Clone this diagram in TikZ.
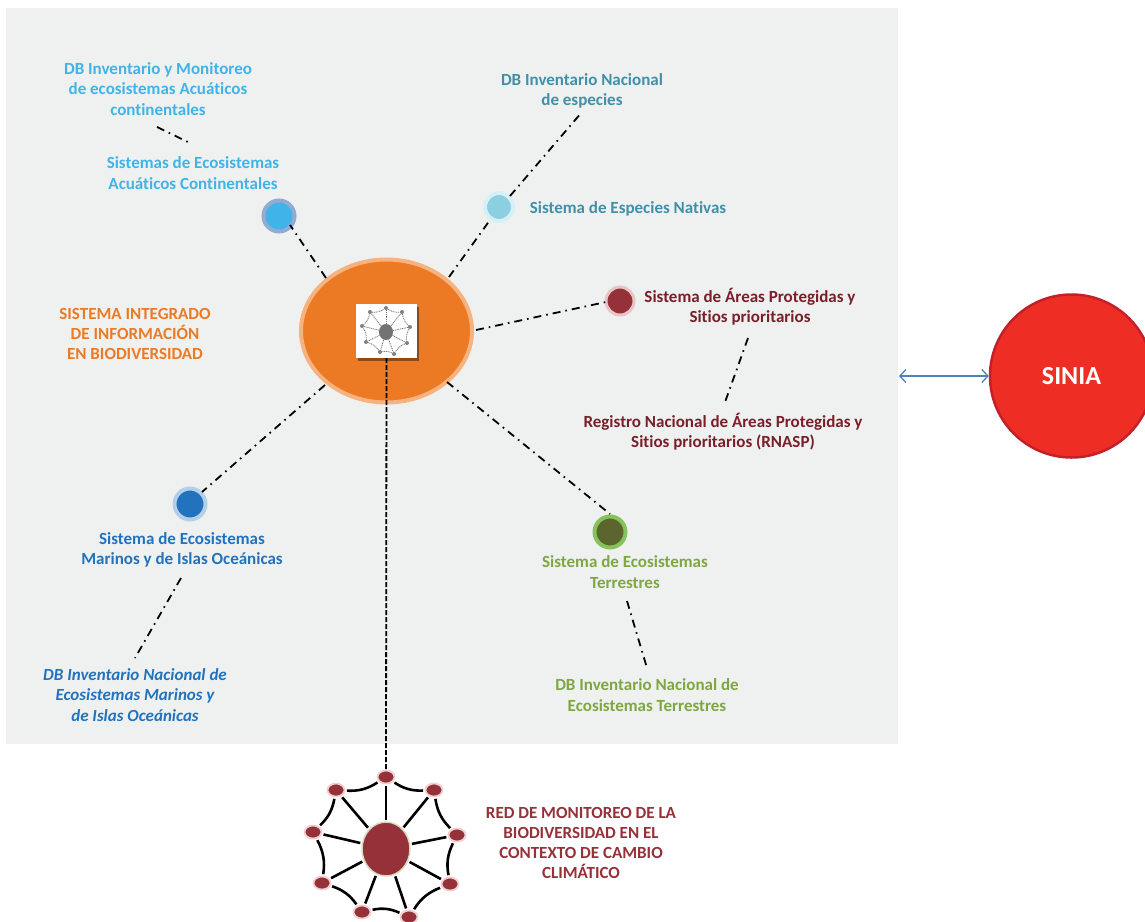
\documentclass[tikz,border=0pt]{standalone}
\usepackage{fontspec}
\setmainfont[Ligatures=NoCommon]{Carlito}
\usetikzlibrary{arrows.meta,shadows,shapes.geometric}
\definecolor{panelc}{HTML}{EFF1F0}
\definecolor{hubc}{HTML}{EC7A25}
\definecolor{hubb}{HTML}{F6B27F}
\definecolor{acuc}{HTML}{40B4E8}
\definecolor{acub}{HTML}{92ABD2}
\definecolor{espc}{HTML}{8CCFE0}
\definecolor{espb}{HTML}{D8EFF5}
\definecolor{espt}{HTML}{3F90A8}
\definecolor{arec}{HTML}{943139}
\definecolor{areb}{HTML}{E8C4C4}
\definecolor{aret}{HTML}{7A1F2A}
\definecolor{marc}{HTML}{2272BD}
\definecolor{marb}{HTML}{B5CFE8}
\definecolor{terc}{HTML}{5D652F}
\definecolor{terb}{HTML}{84C25C}
\definecolor{tert}{HTML}{7EA743}
\definecolor{sinc}{HTML}{EE2E24}
\definecolor{sinb}{HTML}{C4202A}
\definecolor{arrc}{HTML}{4F81BD}
\definecolor{webb}{HTML}{D9D9C0}
\definecolor{webh}{HTML}{F2CFCF}
\tikzset{
  lab/.style={align=center,inner sep=0pt,font=\fontsize{17}{20.3}\selectfont\bfseries},
  dot/.style={circle,inner sep=0pt,minimum size=#1,line width=4pt},
  dd/.style={black,line width=1.8pt,dash pattern=on 8pt off 5pt on 1.6pt off 5pt},
  ww/.style={black,line width=2.6pt},
  wnode/.style={ellipse,fill=arec,draw=webh,line width=1.8pt,minimum width=17pt,minimum height=13pt,inner sep=0pt},
  mm/.style={black!55,line width=.8pt,dash pattern=on 1pt off .8pt},
  mnode/.style={ellipse,fill=black!50,inner sep=0pt,minimum width=4pt,minimum height=4pt},
  wb/.style={bend right=18},
}
\begin{document}
\begin{tikzpicture}[x=1pt,y=-1pt]
\clip (0,0) rectangle (1145,921);
\fill[white] (0,0) rectangle (1145,921);
\fill[panelc] (6,8) rectangle (898,744);

% hub and system circles
\node[ellipse,fill=hubc,draw=hubb,line width=4pt,minimum width=171pt,minimum height=143pt,inner sep=0pt] (hub) at (386.5,331) {};
\node[dot=31pt,fill=acuc,draw=acub] (acu) at (279,216) {};
\node[dot=28pt,fill=espc,draw=espb] (esp) at (499,207) {};
\node[dot=28pt,line width=3pt,fill=arec,draw=areb] (are) at (620,301) {};
\node[dot=31pt,fill=marc,draw=marb] (mar) at (190,504) {};
\node[dot=31pt,fill=terc,draw=terb] (ter) at (610,532) {};
\node[circle,fill=sinc,draw=sinb,line width=2.5pt,minimum size=163pt,inner sep=0pt,text=white,font=\fontsize{26}{30}\selectfont\bfseries] (sin) at (1071.5,376) {\raisebox{-1pt}{SINIA}};

% free ends of connectors
\coordinate (a0) at (326,278); \coordinate (a1) at (290,225);
\coordinate (a2) at (190,143); \coordinate (a3) at (157,127);
\coordinate (e0) at (449,277); \coordinate (e1) at (490,220);
\coordinate (e2) at (510,196); \coordinate (e3) at (582,112);
\coordinate (r0) at (476,330); \coordinate (r1) at (606,302);
\coordinate (r2) at (748,338); \coordinate (r3) at (724,405);
\coordinate (t0) at (447,382); \coordinate (t1) at (610,514);
\coordinate (t2) at (627,601); \coordinate (t3) at (647,668);
\coordinate (m0) at (325,385); \coordinate (m1) at (202,492);
\coordinate (m2) at (181,578); \coordinate (m3) at (135,658);
\coordinate (panelr) at (899,376);

\draw[dd] (a0) -- (a1);
\draw[dd] (a3) -- (a2);
\draw[dd] (e0) -- (e1);
\draw[dd] (e2) -- (e3);
\draw[dd] (r0) -- (r1);
\draw[dd] (r2) -- (r3);
\draw[dd] (t0) -- (t1);
\draw[dd] (t2) -- (t3);
\draw[dd] (m0) -- (m1);
\draw[dd] (m2) -- (m3);
\draw[arrc,line width=1.3pt,{Straight Barb[length=6pt,width=13pt]}-{Straight Barb[length=6pt,width=13pt]}] (panelr) -- (sin.west);

% bottom network
\node[ellipse,fill=arec,draw=webb,line width=1.5pt,minimum width=48pt,minimum height=54pt,inner sep=0pt] (wc) at (386,849) {};
\node[wnode] (w1) at (386,777) {};
\node[wnode] (w2) at (336,790) {};
\node[wnode] (w3) at (434,790) {};
\node[wnode] (w4) at (313,832) {};
\node[wnode] (w5) at (457,835) {};
\node[wnode] (w6) at (322,883) {};
\node[wnode] (w7) at (450,884) {};
\node[wnode] (w8) at (362,912) {};
\node[wnode] (w9) at (409,917) {};
\foreach \n in {1,...,9} \draw[ww,shorten >=1.5pt,shorten <=1.5pt] (wc) -- (w\n);
\foreach \p/\q in {1/3,3/5,5/7,7/9,9/8,8/6,6/4,4/2,2/1}
  \draw[ww,shorten >=1.5pt,shorten <=1.5pt] (w\p) to[wb] (w\q);

% icon on the hub
\node[fill=white,minimum width=61pt,minimum height=54pt,inner sep=0pt,drop shadow={shadow xshift=1.5pt,shadow yshift=-3pt,fill=black,opacity=.4}] (ico) at (386.5,331) {};
\node[ellipse,fill=black!55,minimum width=14pt,minimum height=16pt,inner sep=0pt] (ic) at (386,332) {};
\node[mnode] (i1) at (386,308) {};
\node[mnode] (i2) at (370,312) {};
\node[mnode] (i3) at (402,312) {};
\node[mnode] (i4) at (362,326) {};
\node[mnode] (i5) at (410,327) {};
\node[mnode] (i6) at (366,342) {};
\node[mnode] (i7) at (407,343) {};
\node[mnode] (i8) at (380,352) {};
\node[mnode] (i9) at (394,354) {};
\foreach \n in {1,...,9} \draw[mm] (ic) -- (i\n);
\foreach \p/\q in {1/3,3/5,5/7,7/9,9/8,8/6,6/4,4/2,2/1}
  \draw[mm] (i\p) to[wb] (i\q);

% vertical link
\draw[black,line width=1.8pt,dash pattern=on 5pt off 2pt] (ico.south) -- (w1.north);

% labels
\node[lab,text=hubc] (l0) at (135,334) {SISTEMA INTEGRADO\\DE INFORMACIÓN\\EN BIODIVERSIDAD};
\node[lab,text=acuc] (l1) at (158,89) {DB Inventario y Monitoreo\\de ecosistemas Acuáticos\\continentales};
\node[lab,text=acuc] (l2) at (193,173) {Sistemas de Ecosistemas\\Acuáticos Continentales};
\node[lab,text=espt] (l3) at (582,91) {DB Inventario Nacional\\de especies};
\node[lab,text=espt] (l4) at (628,209) {Sistema de Especies Nativas};
\node[lab,text=aret] (l5) at (750,307) {Sistema de Áreas Protegidas y\\Sitios prioritarios};
\node[lab,text=aret] (l6) at (723,432) {Registro Nacional de Áreas Protegidas y\\Sitios prioritarios (RNASP)};
\node[lab,text=marc] (l7) at (182,550) {Sistema de Ecosistemas\\Marinos y de Islas Oceánicas};
\node[lab,text=marc,font=\fontsize{17}{20.3}\selectfont\bfseries\itshape] (l8) at (135,695) {DB Inventario Nacional de\\Ecosistemas Marinos y\\de Islas Oceánicas};
\node[lab,text=tert] (l9) at (625,572) {Sistema de Ecosistemas\\Terrestres};
\node[lab,text=tert] (l10) at (647,695) {DB Inventario Nacional de\\Ecosistemas Terrestres};
\node[lab,text=arec] (l11) at (581,843) {RED DE MONITOREO DE LA\\BIODIVERSIDAD EN EL\\CONTEXTO DE CAMBIO\\CLIMÁTICO};
\end{tikzpicture}
\end{document}
